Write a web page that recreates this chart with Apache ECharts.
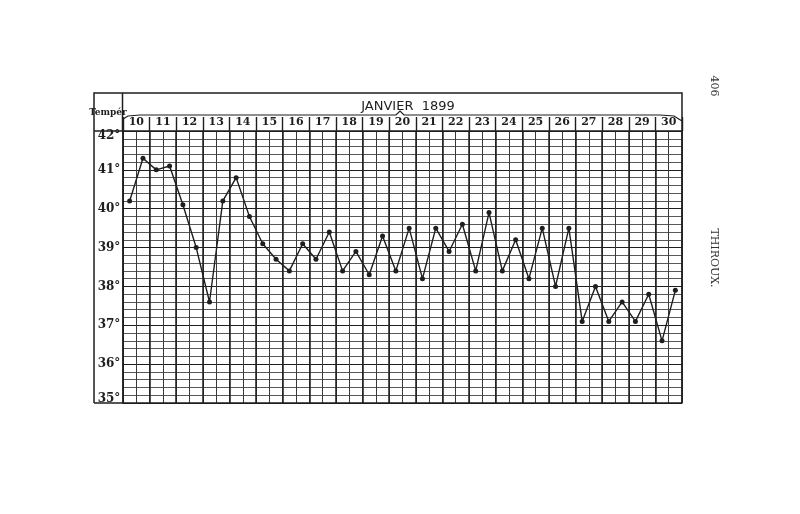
<!DOCTYPE html>
<html>
<head>
<meta charset="utf-8">
<script src="https://cdn.jsdelivr.net/npm/echarts@6/dist/echarts.min.js"></script>
<style>
  html, body { margin: 0; padding: 0; background: #ffffff; }
  #chart { width: 800px; height: 514px; }
</style>
</head>
<body>
<div id="chart"></div>
<script>
// ---- data ----
const title = 'JANVIER  1899';
const days = ['10','11','12','13','14','15','16','17','18','19','20','21','22','23','24','25','26','27','28','29','30'];
const halves = ['M', 'S']; // matin / soir
const slots = [];
days.forEach(d => halves.forEach(h => slots.push(d + h)));
const temps = [
  40.2, 41.3,  41.0, 41.1,  40.1, 39.0,  37.6, 40.2,  40.8, 39.8,
  39.1, 38.7,  38.4, 39.1,  38.7, 39.4,  38.4, 38.9,  38.3, 39.3,
  38.4, 39.5,  38.2, 39.5,  38.9, 39.6,  38.4, 39.9,  38.4, 39.2,
  38.2, 39.5,  38.0, 39.5,  37.1, 38.0,  37.1, 37.6,  37.1, 37.8,
  36.6, 37.9
];
const yMin = 35, yMax = 42;
const yLabelSuffix = '°';
const columnHeader = 'Tempér';
const pageNumber = '406';
const author = 'THIROUX.';

// ---- chart ----
const ink = '#1e1e1e';
const serif = '"DejaVu Serif", "Liberation Serif", serif';
const chart = echarts.init(document.getElementById('chart'), null, { renderer: 'canvas' });

const G = { left: 123, top: 131, right: 682, bottom: 403 };

chart.setOption({
  backgroundColor: '#ffffff',
  animation: false,
  title: {
    text: title,
    left: 403, top: 95, textAlign: 'center',
    textStyle: { fontFamily: '"DejaVu Sans", sans-serif', fontSize: 13, fontWeight: 'normal', color: ink }
  },
  grid: { left: G.left, top: G.top, width: G.right - G.left, height: G.bottom - G.top, containLabel: false },
  xAxis: [
    {
      type: 'category', data: slots, position: 'bottom', boundaryGap: true,
      axisLine: { show: true, lineStyle: { color: ink, width: 1.5 } },
      axisTick: { show: false }, axisLabel: { show: false },
      splitLine: { show: true, interval: 0, lineStyle: { color: '#3a3a3a', width: 1 } }
    },
    {
      type: 'category', data: days, position: 'top', boundaryGap: true,
      axisLine: { show: true, lineStyle: { color: ink, width: 1.5 } },
      axisTick: { show: true, interval: 0, length: 14, lineStyle: { color: ink, width: 1.4 } },
      axisLabel: { show: true, interval: 0, margin: 3, fontFamily: serif, fontSize: 11, fontWeight: 'bold', color: ink },
      splitLine: { show: true, interval: 0, lineStyle: { color: ink, width: 1.5 } }
    }
  ],
  yAxis: [
    {
      type: 'value', min: yMin, max: yMax, interval: 0.2,
      axisLine: { show: true, lineStyle: { color: ink, width: 1.5 } },
      axisTick: { show: false },
      splitLine: { show: true, lineStyle: { color: '#454545', width: 0.9 } },
      axisLabel: {
        show: true, margin: 14, align: 'center',
        fontFamily: serif, fontSize: 12, fontWeight: 'bold', color: ink,
        formatter: function (v) {
          const r = Math.round(v);
          if (Math.abs(v - r) > 1e-6) return '';
          if (r === yMax) return '{t|' + r + yLabelSuffix + '}';
          if (r === yMin) return '{b|' + r + yLabelSuffix + '}';
          return r + yLabelSuffix;
        },
        rich: {
          t: { fontFamily: serif, fontSize: 12, fontWeight: 'bold', color: ink, padding: [9, 0, 0, 0] },
          b: { fontFamily: serif, fontSize: 12, fontWeight: 'bold', color: ink, padding: [0, 0, 9, 0] }
        }
      }
    },
    {
      type: 'value', min: yMin, max: yMax, interval: 1, position: 'left',
      axisLine: { show: false }, axisTick: { show: false }, axisLabel: { show: false },
      splitLine: { show: true, lineStyle: { color: ink, width: 1.1 } }
    }
  ],
  series: [{
    type: 'line', data: temps, xAxisIndex: 0, yAxisIndex: 0,
    symbol: 'circle', symbolSize: 5, smooth: false,
    lineStyle: { color: ink, width: 1.4 },
    itemStyle: { color: ink },
    z: 5
  }],
  graphic: [
    // outer frame of the header and the label column
    { type: 'polyline', shape: { points: [[94, 403], [94, 93], [682, 93], [682, 131]] }, style: { stroke: ink, lineWidth: 1.5, fill: null }, silent: true },
    { type: 'line', shape: { x1: 94, y1: 403, x2: 123, y2: 403 }, style: { stroke: ink, lineWidth: 1.5 }, silent: true },
    { type: 'line', shape: { x1: 122.5, y1: 93, x2: 122.5, y2: 131 }, style: { stroke: ink, lineWidth: 1.5 }, silent: true },
    { type: 'line', shape: { x1: 94, y1: 131, x2: 123, y2: 131 }, style: { stroke: ink, lineWidth: 1.5 }, silent: true },
    { type: 'line', shape: { x1: 682, y1: 131, x2: 682, y2: 403 }, style: { stroke: ink, lineWidth: 1.5 }, silent: true },
    // brace under the month title
    { type: 'polyline', shape: { points: [[123, 119], [128, 116], [140, 115], [396, 115], [400, 111], [404, 115], [660, 115], [674, 116], [682, 121]] }, style: { stroke: ink, lineWidth: 1.2, fill: null }, silent: true },
    { type: 'text', x: 108, y: 113, style: { text: columnHeader, fontFamily: serif, fontSize: 9, fontWeight: 'bold', fill: ink, align: 'center', verticalAlign: 'middle' }, silent: true },
    // page margin texts
    { type: 'text', x: 714, y: 86, rotation: -Math.PI / 2, style: { text: pageNumber, fontFamily: serif, fontSize: 11, fill: '#333', align: 'center', verticalAlign: 'middle' }, silent: true },
    { type: 'text', x: 714, y: 258, rotation: -Math.PI / 2, style: { text: author, fontFamily: serif, fontSize: 11, fill: '#333', align: 'center', verticalAlign: 'middle' }, silent: true }
  ]
});
</script>
</body>
</html>
